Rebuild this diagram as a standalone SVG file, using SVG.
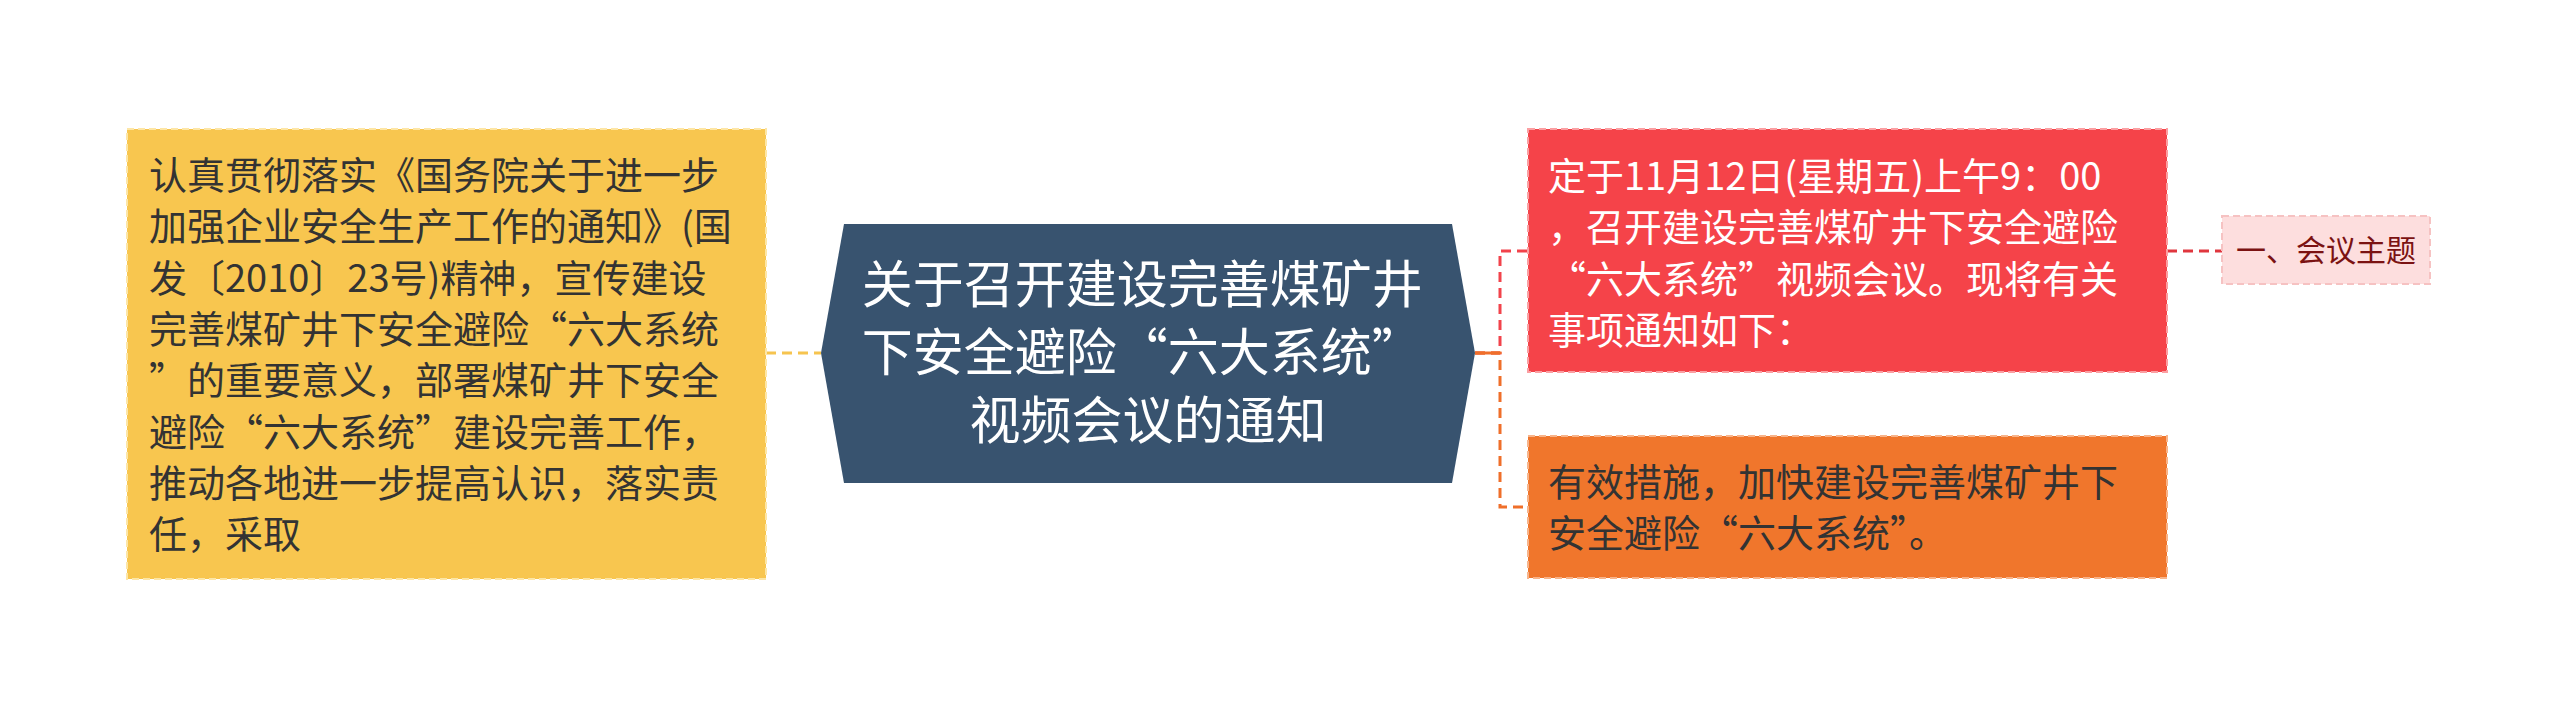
<svg xmlns="http://www.w3.org/2000/svg" width="2560" height="707" viewBox="0 0 2560 707">
<style>
text{font-family:"Noto Sans CJK SC","Noto Sans",sans-serif;}
.t38{font-size:38px;}
.dark{fill:#333333;}
.white{fill:#ffffff;}
.box{stroke-width:2;stroke-dasharray:7 4;}
.con{fill:none;stroke-width:3;stroke-dasharray:10 6;}
</style>
<rect width="2560" height="707" fill="#ffffff"/>
<g id="connectors">
<path class="con" d="M766 353 L821 353" stroke="#f6c44f"/>
<path class="con" d="M1475 353 L1500 353 L1500 251 L1528 251" stroke="#f2434b"/>
<path class="con" d="M1475 353 L1500 353 L1500 507 L1528 507" stroke="#ef6f2a"/>
<path d="M1475 353 L1500 353" stroke="#ef6f2a" stroke-width="3"/>
<path class="con" d="M2167 251 L2222 251" stroke="#e0363e"/>
</g>
<g id="node-left">
<rect class="box" x="127" y="129" width="639" height="450" fill="#f8c64f" stroke="#fde6a6"/>
<text class="t38 dark">
<tspan x="149" y="189">认真贯彻落实《国务院关于进一步</tspan>
<tspan x="149" y="240.3">加强企业安全生产工作的通知》(国</tspan>
<tspan x="149" y="291.6">发〔2010〕23号)精神，宣传建设</tspan>
<tspan x="149" y="343">完善煤矿井下安全避险“六大系统</tspan>
<tspan x="149" y="394.2">”的重要意义，部署煤矿井下安全</tspan>
<tspan x="149" y="445.5">避险“六大系统”建设完善工作，</tspan>
<tspan x="149" y="496.8">推动各地进一步提高认识，落实责</tspan>
<tspan x="149" y="548">任，采取</tspan>
</text>
</g>
<g id="node-center">
<polygon points="844,224 1452,224 1475,353 1452,483 844,483 821,353" fill="#38536f"/>
<text class="white" font-size="51" text-anchor="middle">
<tspan x="1148" y="303">关于召开建设完善煤矿井</tspan>
<tspan x="1148" y="371">下安全避险“六大系统”</tspan>
<tspan x="1148" y="439">视频会议的通知</tspan>
</text>
</g>
<g id="node-red">
<rect class="box" x="1528" y="129" width="639" height="243" fill="#f54349" stroke="#fb9fa2"/>
<text class="t38 white">
<tspan x="1548" y="190">定于11月12日(星期五)上午9：00</tspan>
<tspan x="1548" y="241.3">，召开建设完善煤矿井下安全避险</tspan>
<tspan x="1548" y="292.6">“六大系统”视频会议。现将有关</tspan>
<tspan x="1548" y="344">事项通知如下：</tspan>
</text>
</g>
<g id="node-orange">
<rect class="box" x="1528" y="436" width="639" height="142" fill="#f0762c" stroke="#f8b48a"/>
<text class="t38 dark">
<tspan x="1548" y="495.6">有效措施，加快建设完善煤矿井下</tspan>
<tspan x="1548" y="547">安全避险“六大系统”。</tspan>
</text>
</g>
<g id="node-pink">
<rect class="box" x="2222" y="216" width="208" height="68" fill="#fddede" stroke="#f6c2c2"/>
<text font-size="30" fill="#7b1212" text-anchor="middle" x="2326" y="261">一、会议主题</text>
</g>
</svg>
